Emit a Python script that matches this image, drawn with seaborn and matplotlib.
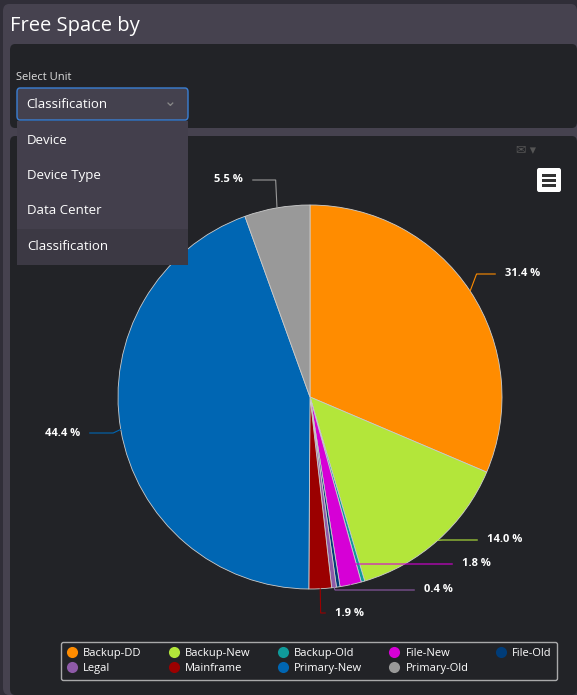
import matplotlib
matplotlib.use("Agg")
import matplotlib.pyplot as plt
import seaborn as sns
import numpy as np
from matplotlib.patches import Rectangle, FancyBboxPatch
from matplotlib.lines import Line2D

categories = ["Backup-DD", "Backup-New", "Backup-Old", "File-New", "File-Old",
              "Legal", "Mainframe", "Primary-New", "Primary-Old"]
values = [31.4, 14.0, 0.3, 1.8, 0.3, 0.4, 1.9, 44.4, 5.5]
colors = ["#ff8c00", "#b3e63a", "#0f9a9a", "#d600d6", "#003c78",
          "#8e5aa8", "#9b0000", "#0066b3", "#999999"]
labeled = [0, 1, 3, 5, 6, 7, 8]
# label anchor pixel positions (style)
label_px = {0: (505, 274), 1: (487, 540), 3: (462, 564), 5: (424, 590),
            6: (335, 613), 7: (80, 433), 8: (243, 180)}
menu_items = ["Device", "Device Type", "Data Center", "Classification"]

sns.set_theme(style="dark")
plt.rcParams['font.family'] = ['Open Sans', 'DejaVu Sans']
W, H = 577, 695
fig = plt.figure(figsize=(W/100, H/100), dpi=100)
fig.patch.set_facecolor("#302e38")

def rect(x, y, w, h, color, z=0, round_=0, ec="none", lw=0):
    if round_:
        p = FancyBboxPatch((x/W, 1-(y+h)/H), w/W, h/H, boxstyle=f"round,pad=0,rounding_size={round_/W}",
                           transform=fig.transFigure, fc=color, ec=ec, lw=lw, zorder=z)
    else:
        p = Rectangle((x/W, 1-(y+h)/H), w/W, h/H, transform=fig.transFigure,
                      fc=color, ec=ec, lw=lw, zorder=z)
    fig.add_artist(p)

def text(x, y, s, size, color="white", z=5, **kw):
    fig.text(x/W, 1-y/H, s, fontsize=size, color=color, va="center", zorder=z, **kw)

rect(3, 4, 574, 691, "#46424f", 0, 6)
rect(10, 44, 567, 84, "#222327", 1, 5)
rect(10, 136, 567, 559, "#222327", 1, 5)
text(10, 26, "Free Space by", 14.5, "white")
text(16, 77, "Select Unit", 8, "#dddddd")
rect(17, 88, 171, 32, "#44414e", 6, 3, ec="#3a7fd5", lw=1)
text(26, 105, "Classification", 9.5, "white", z=7)
text(164, 103, "⌄", 11, "#888888", z=7)
rect(17, 121, 171, 144, "#433f4c", 6)
rect(17, 229, 171, 36, "#3c3944", 6)
for i, m in enumerate(menu_items):
    text(27, 140 + i*35.5, m, 9.5, "white", z=7)
rect(537, 168, 24, 24, "white", 3, 2)
for k in range(3):
    rect(542, 174 + k*5, 14, 2.5, "#333333", 4)
text(516, 151, "✉ ▾", 9, "#555555", z=3)

cx, cy, R = 310, 397, 192
ax = fig.add_axes([(cx-R)/W, 1-(cy+R)/H, 2*R/W, 2*R/H])
ax.set_zorder(2)
ax.set_facecolor("none")
wedges, _ = ax.pie(values, colors=colors, startangle=90, counterclock=False,
                   wedgeprops=dict(edgecolor="#cccccc", linewidth=0.6))
ax.set_xlim(-1, 1); ax.set_ylim(-1, 1)
ax.set_aspect("auto")
ax.axis("off")
for i in labeled:
    w = wedges[i]
    a = np.deg2rad((w.theta1 + w.theta2) / 2)
    x0, y0 = np.cos(a), np.sin(a)
    lx, ly = label_px[i]
    tx, ty = (lx - cx)/R, (cy - ly)/R
    right = tx > 0
    ex = tx - (0.05 if right else -0.05)
    ax.plot([x0, x0*1.04, ex], [y0, ty if abs(ty-y0) < 0.5 else y0*1.04 + (ty-y0*1.04), ty],
            color=colors[i], lw=0.8, clip_on=False)
    ax.text(tx, ty, f"{values[i]:.1f} %", color="white", fontsize=8, fontweight="bold",
            ha="left" if right else "right", va="center", clip_on=False)

handles = [Line2D([], [], marker="o", ls="none", markersize=8, markerfacecolor=c,
                  markeredgecolor="none") for c in colors]
labels = list(categories)
# reorder so matplotlib's column-major fill gives row-major layout (5 columns, 2 rows)
order = [0, 5, 1, 6, 2, 7, 3, 8, 4]
leg = fig.legend(handles=[handles[k] for k in order], labels=[labels[k] for k in order],
                 ncol=5, loc="center",
                 bbox_to_anchor=(309/W, 1-661/H), frameon=True, fontsize=8,
                 handlelength=1.0, columnspacing=2.4, handletextpad=0.5,
                 labelcolor="white", borderpad=0.5, labelspacing=0.4)
leg.get_frame().set_facecolor("#222327")
leg.get_frame().set_edgecolor("#cccccc")
leg.get_frame().set_boxstyle("round,pad=0,rounding_size=0.2")
fig.savefig("out.png", dpi=100, facecolor=fig.get_facecolor())
